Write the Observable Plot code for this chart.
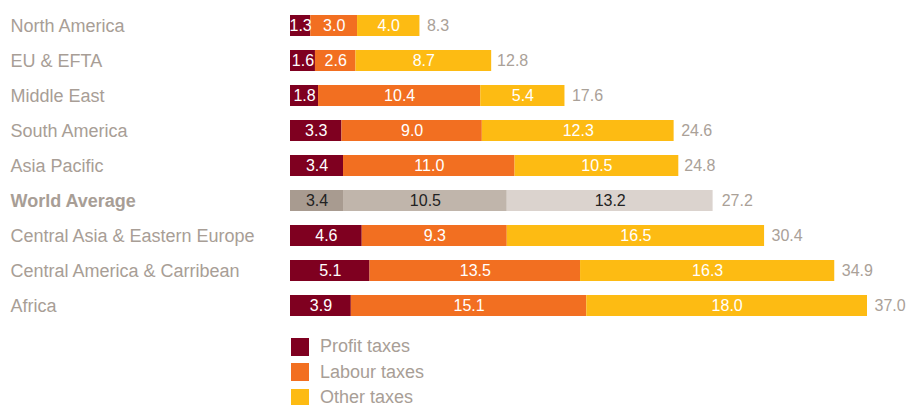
<!DOCTYPE html>
<html><head><meta charset="utf-8">
<script src="https://cdn.jsdelivr.net/npm/d3@7"></script>
<script src="https://cdn.jsdelivr.net/npm/@observablehq/plot@0.6"></script>
<style>
body{margin:0;background:#fff;font-family:"Liberation Sans",Arial,sans-serif;}
#legend{margin-left:291px;margin-top:4px;}
.item{display:flex;align-items:center;height:25.5px;}
.sw{width:18px;height:18px;margin-right:11px;}
.lab{font-size:18px;color:#a89e96;}
</style></head><body>
<div id="chart"></div>
<div id="legend"></div>
<script>
const categories = ["North America","EU & EFTA","Middle East","South America","Asia Pacific","World Average","Central Asia & Eastern Europe","Central America & Carribean","Africa"];
const profitTaxes = [1.3,1.6,1.8,3.3,3.4,3.4,4.6,5.1,3.9];
const labourTaxes = [3.0,2.6,10.4,9.0,11.0,10.5,9.3,13.5,15.1];
const otherTaxes  = [4.0,8.7,5.4,12.3,10.5,13.2,16.5,16.3,18.0];
const totals      = [8.3,12.8,17.6,24.6,24.8,27.2,30.4,34.9,37.0];
const seriesNames = ["Profit taxes","Labour taxes","Other taxes"];
const highlight = "World Average";

const colors = ["#7f0020","#f26f21","#fdbb13"];
const greyColors = ["#a89b90","#c0b5ab","#dbd3ce"];

const rows = [];
categories.forEach((c,i)=>{
  [profitTaxes,labourTaxes,otherTaxes].forEach((arr,s)=>{
    rows.push({region:c, series:seriesNames[s], s, value:arr[i]});
  });
});
const totalRows = categories.map((c,i)=>({region:c,total:totals[i]}));
const fillOf = d => (d.region===highlight ? greyColors : colors)[d.s];

const chart = Plot.plot({
  width:907, height:330,
  marginLeft:290, marginRight:40, marginTop:0, marginBottom:0,
  style:{fontFamily:'"Liberation Sans",Arial,sans-serif', background:"#fff"},
  x:{domain:[0,37], axis:null},
  y:{domain:categories, padding:0.4, axis:null},
  color:{type:"identity"},
  marks:[
    Plot.barX(rows, Plot.stackX({x:"value", y:"region", fill:fillOf, order:"s"})),
    Plot.text(rows, Plot.stackX({x:"value", y:"region", order:"s", text:d=>d.value.toFixed(1),
      fill:d=>d.region===highlight?"#222":"#fff", fontSize:16})),
    Plot.text(totalRows, {x:"total", y:"region", text:d=>d.total.toFixed(1), dx:7, textAnchor:"start", fill:"#aaa198", fontSize:16}),
    Plot.text(categories.filter(c=>c!==highlight), {y:d=>d, text:d=>d, frameAnchor:"left", dx:-280, textAnchor:"start",
      fill:"#a89e96", fontSize:18}),
    Plot.text([highlight], {y:d=>d, text:d=>d, frameAnchor:"left", dx:-280, textAnchor:"start",
      fill:"#a89e96", fontSize:18, fontWeight:"bold"})
  ]
});
document.getElementById("chart").appendChild(chart);

const leg = document.getElementById("legend");
seriesNames.forEach((n,i)=>{
  const it=document.createElement("div"); it.className="item";
  it.innerHTML=`<div class="sw" style="background:${colors[i]}"></div><span class="lab">${n}</span>`;
  leg.appendChild(it);
});
</script>
</body></html>
